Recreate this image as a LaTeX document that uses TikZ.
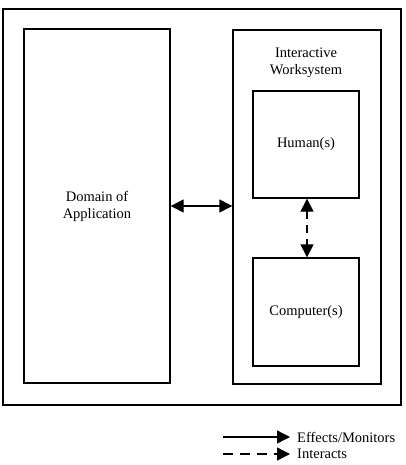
\documentclass[tikz,border=0pt]{standalone}
\usepackage{fontspec}
\setmainfont{Liberation Serif}
\usetikzlibrary{arrows.meta}
\begin{document}
\begin{tikzpicture}[x=1pt,y=-1pt,
  box/.style={draw,line width=1.4pt,inner sep=0pt,align=center,font=\fontsize{14.5}{17}\selectfont},
  lbl/.style={inner sep=0pt,align=center,font=\fontsize{14.5}{17}\selectfont},
  tip/.style={-{Triangle[length=13pt,width=13pt]}},
  dtip/.style={{Triangle[length=13pt,width=13pt]}-{Triangle[length=13pt,width=13pt]}},
  conn/.style={line width=1.4pt}]
\useasboundingbox (0,0) rectangle (405,465);
\node[box,line width=1.6pt,minimum width=398pt,minimum height=396pt] (frame) at (202,207) {};
\node[box,minimum width=146pt,minimum height=354pt] (dom) at (97,206) {Domain of\\Application};
\node[box,minimum width=148pt,minimum height=354pt] (ws) at (307,207) {};
\node[lbl] (wst) at (306,63) {Interactive\\Worksystem};
\node[box,minimum width=106pt,minimum height=107pt] (hum) at (306,144.5) {Human(s)};
\node[box,minimum width=106pt,minimum height=108pt] (comp) at (306,312) {Computer(s)};
\draw[conn,dtip] (dom.east |- 0,206) -- (ws.west |- 0,206);
\draw[conn,dtip,dash pattern=on 8pt off 6pt] (hum.south -| 307,0) -- (comp.north -| 307,0);
\coordinate (s1) at (223,437);
\coordinate (e1) at (290,437);
\coordinate (s2) at (223,454);
\coordinate (e2) at (290,454);
\draw[conn,tip] (s1) -- (e1);
\draw[conn,tip,dash pattern=on 10pt off 7pt] (s2) -- (e2);
\node[lbl,anchor=west] (l1) at (297,437) {Effects/Monitors};
\node[lbl,anchor=west] (l2) at (297,454) {Interacts};
\end{tikzpicture}
\end{document}
